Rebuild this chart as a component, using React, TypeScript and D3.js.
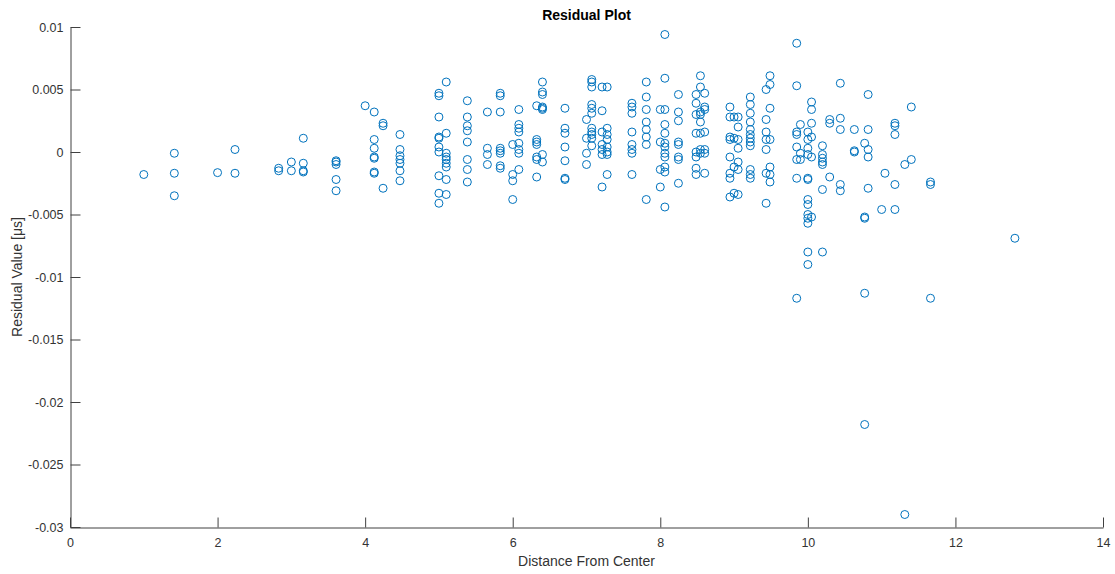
// Residual plot: MATLAB-style scatter, drawn with D3
import * as d3 from 'd3';
import React, { useEffect, useRef } from 'react';

// distances (grid distances from centre), one entry per column of points
const distances = [
  1.0, 1.414, 2.0, 2.236, 2.828, 3.0, 3.162, 3.606, 4.0, 4.123, 4.243, 4.472,
  5.0, 5.099, 5.385, 5.657, 5.831, 6.0, 6.083, 6.325, 6.403, 6.708, 7.0, 7.071,
  7.211, 7.28, 7.616, 7.81, 8.0, 8.062, 8.246, 8.485, 8.544, 8.602, 8.944, 9.0,
  9.055, 9.22, 9.434, 9.487, 9.849, 9.899, 10.0, 10.05, 10.198, 10.296, 10.44,
  10.63, 10.77, 10.817, 11.0, 11.045, 11.18, 11.314, 11.402, 11.662, 12.806,
];

// residuals for each distance above
const residuals = [
  [-0.0018],
  [-0.0001, -0.0017, -0.0035],
  [-0.00165],
  [0.0002, -0.0017],
  [-0.0013, -0.0015],
  [-0.0008, -0.0015],
  [0.0011, -0.0009, -0.0015, -0.0016],
  [-0.0007, -0.0008, -0.001, -0.0022, -0.0031],
  [0.0037],
  [0.0032, 0.001, 0.0003, -0.0004, -0.0005, -0.0016, -0.0017],
  [0.0023, 0.0021, -0.0029],
  [0.0014, 0.0002, -0.0003, -0.0006, -0.0009, -0.0015, -0.0023],
  [0.0047, 0.0045, 0.0028, 0.0012, 0.0011, 0.0004, 0.0, -0.0019, -0.0033, -0.0041],
  [0.0056, 0.0015, -0.0001, -0.0004, -0.0006, -0.0009, -0.0012, -0.0022, -0.0034],
  [0.0041, 0.0028, 0.0021, 0.0017, 0.0008, -0.0006, -0.0014, -0.0024],
  [0.0032, 0.0003, -0.0002, -0.001],
  [0.0047, 0.0045, 0.0032, 0.0003, 0.0001, -0.0001, -0.0011, -0.0013],
  [0.0006, -0.0018, -0.0023, -0.0038],
  [0.0034, 0.0022, 0.0019, 0.0016, 0.0007, 0.0002, -0.0001, -0.0014],
  [0.0037, 0.001, 0.0008, 0.0006, -0.0004, -0.0006, -0.002],
  [0.0056, 0.0048, 0.0046, 0.0036, 0.0035, 0.0034, -0.0002, -0.0008],
  [0.0035, 0.0019, 0.0015, 0.0004, -0.0007, -0.0021, -0.0022],
  [0.0026, 0.0011, -0.0001, -0.001],
  [0.0058, 0.0056, 0.0052, 0.0038, 0.0035, 0.0031, 0.0019, 0.0016, 0.0014, 0.0011, 0.0005],
  [0.0052, 0.0033, 0.0016, 0.0006, 0.0002, -0.0002, -0.0028],
  [0.0052, 0.0019, 0.0014, 0.001, 0.0004, 0.0, -0.0002, -0.0018],
  [0.0039, 0.0036, 0.0031, 0.0016, 0.0006, 0.0002, -0.0001, -0.0018],
  [0.0056, 0.0044, 0.0034, 0.0024, 0.0018, 0.0012, 0.0006, -0.0038],
  [0.0034, 0.0008, -0.0014, -0.0028],
  [0.0094, 0.0059, 0.0034, 0.0022, 0.0015, 0.0007, 0.0004, -0.0001, -0.0004, -0.0012, -0.0016, -0.0044],
  [0.0046, 0.0032, 0.0025, 0.0008, 0.0006, -0.0004, -0.0006, -0.0025],
  [0.0046, 0.0039, 0.003, 0.0015, 0.0, -0.0004, -0.0013, -0.0018],
  [0.0061, 0.0052, 0.0032, 0.003, 0.0024, 0.0015, 0.0002, -0.0001],
  [0.0047, 0.0036, 0.0034, 0.0016, 0.0002, -0.0001, -0.0017],
  [0.0036, 0.0028, 0.0012, 0.001, -0.0004, -0.0017, -0.0021, -0.0036],
  [0.0028, 0.0011, -0.0012, -0.0033],
  [0.0028, 0.002, 0.001, 0.0003, -0.0008, -0.0014, -0.0034],
  [0.0044, 0.0038, 0.0031, 0.0024, 0.0018, 0.0014, 0.0011, 0.0008, 0.0005, -0.0014, -0.0018, -0.0021],
  [0.005, 0.0026, 0.0016, 0.001, 0.0002, -0.0017, -0.0041],
  [0.0061, 0.0054, 0.0035, 0.001, -0.0012, -0.0018, -0.0024],
  [0.0087, 0.0053, 0.0016, 0.0014, 0.0004, -0.0006, -0.0021, -0.0117],
  [0.0022, -0.0001, -0.0006],
  [0.0016, 0.001, 0.0003, -0.0002, -0.0021, -0.0022, -0.0038, -0.0042, -0.005, -0.0053, -0.0057, -0.008, -0.009],
  [0.004, 0.0034, 0.0023, 0.0012, -0.0004, -0.0052],
  [0.0005, -0.0002, -0.0005, -0.0008, -0.001, -0.003, -0.008],
  [0.0026, 0.0023, -0.002],
  [0.0055, 0.0027, 0.0018, -0.0026, -0.0031],
  [0.0018, 0.0001, 0.0],
  [0.0007, -0.0052, -0.0053, -0.0113, -0.0218],
  [0.0046, 0.0018, 0.0002, -0.0004, -0.0029],
  [-0.0046],
  [-0.0017],
  [0.0023, 0.0021, 0.0014, -0.0026, -0.0046],
  [-0.001, -0.029],
  [0.0036, -0.0006],
  [-0.0024, -0.0026, -0.0117],
  [-0.0069],
];

const xTicks = [0, 2, 4, 6, 8, 10, 12, 14];
const yTicks = [0.01, 0.005, 0, -0.005, -0.01, -0.015, -0.02, -0.025, -0.03];

const width = 1115;
const height = 574;
const margin = { left: 70, right: 12, top: 27, bottom: 47 };
const font = '"Liberation Sans", Arial, Helvetica, sans-serif';
const axisColor = '#404040';
const markerColor = '#0072BD';

export default function App() {
  const svgRef = useRef<SVGSVGElement | null>(null);

  useEffect(() => {
    const svg = d3.select(svgRef.current);
    svg.selectAll('*').remove();

    const x = d3.scaleLinear().domain([0, 14]).range([margin.left, width - margin.right]);
    const y = d3.scaleLinear().domain([-0.03, 0.01]).range([height - margin.bottom, margin.top]);

    // flatten the columns into points
    const points: [number, number][] = [];
    distances.forEach((d, i) => residuals[i].forEach((r) => points.push([d, r])));

    // x axis (ticks point inward)
    const gx = svg.append('g')
      .attr('transform', `translate(0,${height - margin.bottom + 0.5})`)
      .call(d3.axisBottom(x).tickValues(xTicks).tickSizeInner(-10).tickSizeOuter(0).tickPadding(11)
        .tickFormat((d) => String(d)));

    // y axis
    const gy = svg.append('g')
      .attr('transform', `translate(${margin.left + 0.5},0)`)
      .call(d3.axisLeft(y).tickValues(yTicks).tickSizeInner(-10).tickSizeOuter(0).tickPadding(7)
        .tickFormat((d) => String(+(+d).toFixed(4))));

    [gx, gy].forEach((g) => {
      g.select('.domain').attr('stroke', axisColor);
      g.selectAll('.tick line').attr('stroke', axisColor);
      g.selectAll('.tick text')
        .attr('fill', '#333')
        .attr('font-family', font)
        .attr('font-size', 12.5);
    });

    // points
    svg.append('g')
      .selectAll('circle')
      .data(points)
      .enter()
      .append('circle')
      .attr('cx', (d) => x(d[0]))
      .attr('cy', (d) => y(d[1]))
      .attr('r', 4)
      .attr('fill', 'none')
      .attr('stroke', markerColor)
      .attr('stroke-width', 1);

    // title
    svg.append('text')
      .attr('x', (x(0) + x(14)) / 2)
      .attr('y', 19.5)
      .attr('text-anchor', 'middle')
      .attr('font-family', font)
      .attr('font-size', 14)
      .attr('font-weight', 'bold')
      .attr('fill', '#000')
      .text('Residual Plot');

    // x label
    svg.append('text')
      .attr('x', (x(0) + x(14)) / 2)
      .attr('y', 566)
      .attr('text-anchor', 'middle')
      .attr('font-family', font)
      .attr('font-size', 14)
      .attr('fill', '#333')
      .text('Distance From Center');

    // y label
    svg.append('text')
      .attr('transform', `translate(22,${(y(0.01) + y(-0.03)) / 2}) rotate(-90)`)
      .attr('text-anchor', 'middle')
      .attr('font-family', font)
      .attr('font-size', 14)
      .attr('fill', '#333')
      .text('Residual Value [\u03bcs]');
  }, []);

  return (
    <svg
      ref={svgRef}
      width={width}
      height={height}
      style={{ position: 'absolute', left: 0, top: 0, background: '#fff' }}
    ></svg>
  );
}
